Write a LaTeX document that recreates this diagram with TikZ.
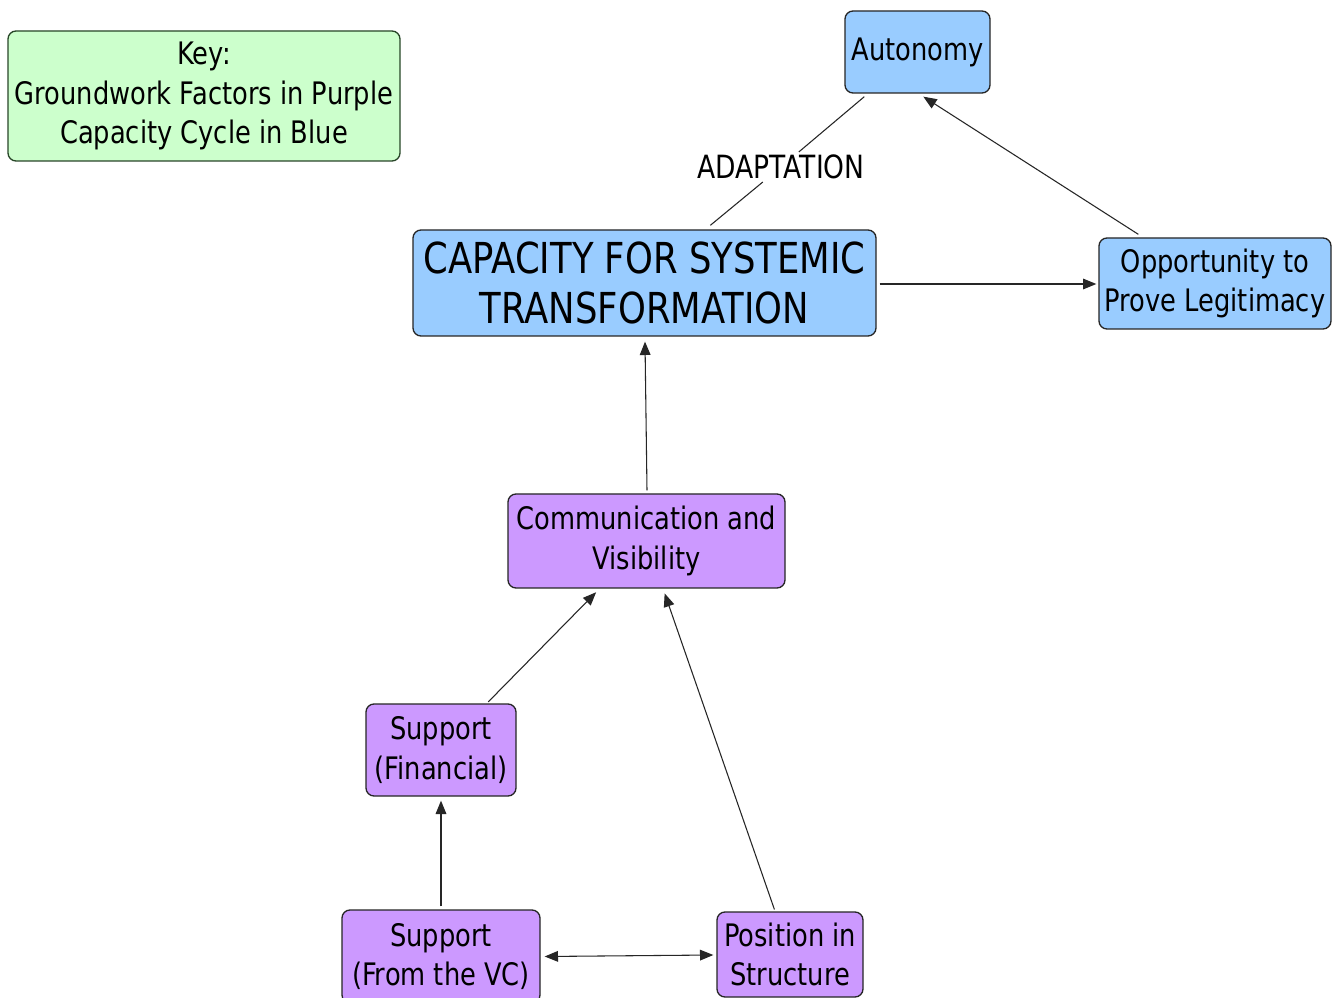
\documentclass[tikz,border=0pt]{standalone}
\usepackage{fontspec}
\setmainfont{DejaVu Sans}[FakeStretch=0.83]
\usetikzlibrary{arrows.meta,calc}
\definecolor{boxblue}{RGB}{153,204,255}
\definecolor{boxpurple}{RGB}{204,153,255}
\definecolor{boxgreen}{RGB}{204,255,204}
\definecolor{keyborder}{RGB}{40,70,40}
\begin{document}
\begin{tikzpicture}[x=0.75pt,y=-0.75pt,
  nodebox/.style={draw=black!85, line width=1pt, rounded corners=6pt, align=center, inner sep=0pt,
    font=\fontsize{23.25pt}{29.5pt}\selectfont},
  bluebox/.style={nodebox, fill=boxblue},
  purplebox/.style={nodebox, fill=boxpurple},
  keybox/.style={nodebox, fill=boxgreen, draw=keyborder},
  conn/.style={draw=black!85, line width=0.8pt},
  arr/.style={conn, -{Triangle[length=10pt,width=8pt]}},
  darr/.style={conn, {Triangle[length=10pt,width=8pt]}-{Triangle[length=10pt,width=8pt]}},
]
\useasboundingbox (0,0) rectangle (1340,998);
\fill[white] (0,0) rectangle (1340,998);

\node[keybox, minimum width=294pt, minimum height=97.5pt] (key) at (204,96)
  {Key:\\Groundwork Factors in Purple\\Capacity Cycle in Blue};
\node[bluebox, minimum width=108.75pt, minimum height=61.5pt] (aut) at (917.5,52) {Autonomy};
\node[bluebox, minimum width=347.25pt, minimum height=79.5pt,
  font=\fontsize{32pt}{37.5pt}\selectfont] (cap) at (644.5,283) {CAPACITY FOR SYSTEMIC\\TRANSFORMATION};
\node[bluebox, minimum width=174pt, minimum height=68.25pt] (opp) at (1215,283.5) {Opportunity to\\Prove Legitimacy};
\node[purplebox, minimum width=207.75pt, minimum height=70.5pt] (comm) at (646.5,541) {Communication and\\Visibility};
\node[purplebox, minimum width=112.5pt, minimum height=69pt] (fin) at (441,750) {Support\\(Financial)};
\node[purplebox, minimum width=148.5pt, minimum height=69.75pt] (vc) at (441,956.5) {Support\\(From the VC)};
\node[purplebox, minimum width=109.5pt, minimum height=63.75pt] (pos) at (790,954.5) {Position in\\Structure};

\node[font=\fontsize{24pt}{29.5pt}\selectfont, inner sep=2pt] (lab) at (781,167) {ADAPTATION};

\draw[conn] ($(aut.south west)+(20,3)$) -- (lab) -- ($(cap.north west)+(298,-4)$);
\draw[arr] ($(opp.north west)+(40,-3)$) -- ($(aut.south west)+(79,3)$);
\draw[arr] ($(cap.east)+(3,1)$) -- ($(opp.west)+(-2,0.5)$);
\draw[arr] ($(comm.north)+(0.5,-3)$) -- ($(cap.south)+(0.5,5)$);
\draw[arr, shorten <=1.5pt, shorten >=3.75pt] (fin) -- (comm);
\draw[arr, shorten <=1.5pt, shorten >=3.75pt] (pos) -- (comm);
\draw[arr] ($(vc.north)+(0,-3)$) -- ($(fin.south)+(0,4)$);
\draw[darr] ($(vc.east)+(4,0)$) -- ($(pos.west)+(-3,0.5)$);
\end{tikzpicture}
\end{document}
